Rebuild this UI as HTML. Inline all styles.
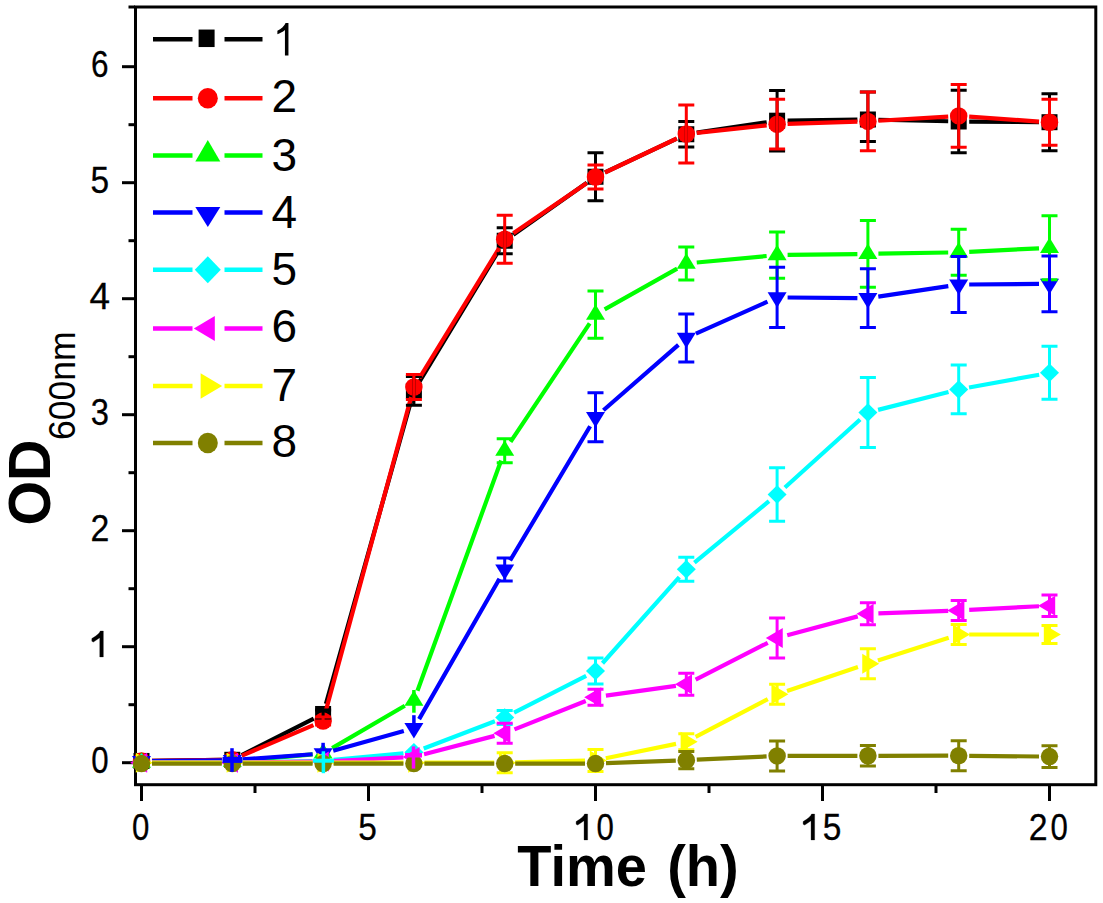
<!DOCTYPE html>
<html><head><meta charset="utf-8"><style>
html,body{margin:0;padding:0;background:#fff;}
svg{display:block;font-family:"Liberation Sans",sans-serif;}
</style></head><body>
<svg width="1103" height="903" viewBox="0 0 1103 903">
<rect width="1103" height="903" fill="#fff"/>
<rect x="135.5" y="7" width="960.3" height="777.7" fill="none" stroke="#000" stroke-width="3"/>
<g stroke="#000" stroke-width="0.3">
<path d="M122,762.70H135" stroke="#000" stroke-width="3"/>
<text transform="translate(99.84,0) scale(0.83,1)" x="-10.46" y="772.90" font-size="37.6">0</text>
<path d="M122,646.70H135" stroke="#000" stroke-width="3"/>
<path transform="translate(89.89,656.90) scale(0.01762,-0.01762)" vector-effect="non-scaling-stroke" d="M763 0H560V1090L200 840L110 890V1040Q330 1170 470 1300Q560 1390 590 1466H763Z"/>
<path d="M122,530.70H135" stroke="#000" stroke-width="3"/>
<text transform="translate(99.84,0) scale(0.9,1)" x="-10.46" y="540.90" font-size="37.6">2</text>
<path d="M122,414.70H135" stroke="#000" stroke-width="3"/>
<text transform="translate(99.84,0) scale(0.87,1)" x="-10.46" y="424.90" font-size="37.6">3</text>
<path d="M122,298.70H135" stroke="#000" stroke-width="3"/>
<text transform="translate(99.84,0) scale(0.98,1)" x="-10.46" y="308.90" font-size="37.6">4</text>
<path d="M122,182.70H135" stroke="#000" stroke-width="3"/>
<text transform="translate(99.84,0) scale(0.89,1)" x="-10.46" y="192.90" font-size="37.6">5</text>
<path d="M122,66.70H135" stroke="#000" stroke-width="3"/>
<text transform="translate(99.84,0) scale(0.84,1)" x="-10.46" y="76.90" font-size="37.6">6</text>
</g>
<path d="M128.5,704.70H135" stroke="#000" stroke-width="3"/>
<path d="M128.5,588.70H135" stroke="#000" stroke-width="3"/>
<path d="M128.5,472.70H135" stroke="#000" stroke-width="3"/>
<path d="M128.5,356.70H135" stroke="#000" stroke-width="3"/>
<path d="M128.5,240.70H135" stroke="#000" stroke-width="3"/>
<path d="M128.5,124.70H135" stroke="#000" stroke-width="3"/>
<path d="M128.5,7.00H135" stroke="#000" stroke-width="3"/>
<path d="M141.50,785V801" stroke="#000" stroke-width="3"/>
<g stroke="#000" stroke-width="0.3"><text transform="translate(140.60,0) scale(0.83,1)" x="-10.46" y="839.90" font-size="37.6">0</text></g>
<path d="M368.50,785V801" stroke="#000" stroke-width="3"/>
<g stroke="#000" stroke-width="0.3"><text transform="translate(367.60,0) scale(0.89,1)" x="-10.46" y="839.90" font-size="37.6">5</text></g>
<path d="M595.50,785V801" stroke="#000" stroke-width="3"/>
<g stroke="#000" stroke-width="0.3"><path transform="translate(574.19,839.90) scale(0.01762,-0.01762)" vector-effect="non-scaling-stroke" d="M763 0H560V1090L200 840L110 890V1040Q330 1170 470 1300Q560 1390 590 1466H763Z"/><text transform="translate(605.06,0) scale(0.83,1)" x="-10.46" y="839.90" font-size="37.6">0</text></g>
<path d="M822.50,785V801" stroke="#000" stroke-width="3"/>
<g stroke="#000" stroke-width="0.3"><path transform="translate(801.19,839.90) scale(0.01762,-0.01762)" vector-effect="non-scaling-stroke" d="M763 0H560V1090L200 840L110 890V1040Q330 1170 470 1300Q560 1390 590 1466H763Z"/><text transform="translate(832.06,0) scale(0.89,1)" x="-10.46" y="839.90" font-size="37.6">5</text></g>
<path d="M1049.50,785V801" stroke="#000" stroke-width="3"/>
<g stroke="#000" stroke-width="0.3"><text transform="translate(1038.14,0) scale(0.9,1)" x="-10.46" y="839.90" font-size="37.6">2</text><text transform="translate(1059.06,0) scale(0.83,1)" x="-10.46" y="839.90" font-size="37.6">0</text></g>
<path d="M255.00,785V793" stroke="#000" stroke-width="3"/>
<path d="M482.00,785V793" stroke="#000" stroke-width="3"/>
<path d="M709.00,785V793" stroke="#000" stroke-width="3"/>
<path d="M936.00,785V793" stroke="#000" stroke-width="3"/>
<path d="M152.00,760.83L221.80,759.93M241.67,755.07L313.73,718.71M325.94,703.87L411.06,401.01M419.33,381.92L499.27,249.73M513.28,234.70L586.92,182.80M605.01,172.30L676.79,138.70M696.69,132.70L766.71,122.25M787.60,120.56L857.40,119.64M878.40,119.73L948.20,121.27M969.20,121.58L1039.00,122.12" fill="none" stroke="#000000" stroke-width="4.2"/>
<rect x="133.50" y="752.96" width="16.00" height="16.00" fill="#000000"/>
<rect x="224.30" y="751.80" width="16.00" height="16.00" fill="#000000"/>
<rect x="315.10" y="705.98" width="16.00" height="16.00" fill="#000000"/>
<rect x="405.90" y="382.90" width="16.00" height="16.00" fill="#000000"/>
<rect x="496.70" y="232.75" width="16.00" height="16.00" fill="#000000"/>
<rect x="587.50" y="168.75" width="16.00" height="16.00" fill="#000000"/>
<rect x="678.30" y="126.25" width="16.00" height="16.00" fill="#000000"/>
<rect x="769.10" y="112.70" width="16.00" height="16.00" fill="#000000"/>
<rect x="859.90" y="111.50" width="16.00" height="16.00" fill="#000000"/>
<rect x="950.70" y="113.50" width="16.00" height="16.00" fill="#000000"/>
<rect x="1041.50" y="114.20" width="16.00" height="16.00" fill="#000000"/>
<path d="M152.00,760.83L221.80,759.93M241.95,755.67L313.45,725.07M325.85,710.81L411.15,397.13M419.39,378.05L499.21,248.10M513.36,233.22L586.84,182.93M604.99,172.51L676.81,138.49M696.74,132.87L766.66,125.33M787.60,123.88L857.40,121.72M878.38,120.77L948.22,116.53M969.17,116.64L1039.03,121.56" fill="none" stroke="#ff0000" stroke-width="4.2"/>
<ellipse cx="141.50" cy="760.96" rx="8.75" ry="8.75" fill="#ff0000"/>
<ellipse cx="232.30" cy="759.80" rx="8.75" ry="8.75" fill="#ff0000"/>
<ellipse cx="323.10" cy="720.94" rx="8.75" ry="8.75" fill="#ff0000"/>
<ellipse cx="413.90" cy="387.00" rx="8.75" ry="8.75" fill="#ff0000"/>
<ellipse cx="504.70" cy="239.15" rx="8.75" ry="8.75" fill="#ff0000"/>
<ellipse cx="595.50" cy="177.00" rx="8.75" ry="8.75" fill="#ff0000"/>
<ellipse cx="686.30" cy="134.00" rx="8.75" ry="8.75" fill="#ff0000"/>
<ellipse cx="777.10" cy="124.20" rx="8.75" ry="8.75" fill="#ff0000"/>
<ellipse cx="867.90" cy="121.40" rx="8.75" ry="8.75" fill="#ff0000"/>
<ellipse cx="958.70" cy="115.90" rx="8.75" ry="8.75" fill="#ff0000"/>
<ellipse cx="1049.50" cy="122.30" rx="8.75" ry="8.75" fill="#ff0000"/>
<path d="M152.00,762.57L221.80,761.67M242.76,760.60L312.64,754.36M332.17,748.13L404.83,705.81M417.49,690.66L501.11,460.53M510.53,441.93L589.67,323.33M604.65,309.45L677.15,268.65M696.75,262.53L766.65,256.02M787.60,254.92L857.40,254.03M878.40,253.72L948.20,252.48M969.19,251.78L1039.01,248.32" fill="none" stroke="#00ff00" stroke-width="4.2"/>
<path d="M141.50,752.37L151.00,767.87L132.00,767.87Z" fill="#00ff00"/>
<path d="M232.30,751.21L241.80,766.71L222.80,766.71Z" fill="#00ff00"/>
<path d="M323.10,743.09L332.60,758.59L313.60,758.59Z" fill="#00ff00"/>
<path d="M413.90,690.19L423.40,705.69L404.40,705.69Z" fill="#00ff00"/>
<path d="M504.70,440.33L514.20,455.83L495.20,455.83Z" fill="#00ff00"/>
<path d="M595.50,304.27L605.00,319.77L586.00,319.77Z" fill="#00ff00"/>
<path d="M686.30,253.17L695.80,268.67L676.80,268.67Z" fill="#00ff00"/>
<path d="M777.10,244.72L786.60,260.22L767.60,260.22Z" fill="#00ff00"/>
<path d="M867.90,243.57L877.40,259.07L858.40,259.07Z" fill="#00ff00"/>
<path d="M958.70,241.97L968.20,257.47L949.20,257.47Z" fill="#00ff00"/>
<path d="M1049.50,237.47L1059.00,252.97L1040.00,252.97Z" fill="#00ff00"/>
<path d="M152.00,761.07L221.80,760.27M242.77,759.38L312.63,754.27M333.22,750.69L403.78,731.06M419.11,719.13L499.49,578.67M510.08,560.54L590.12,426.22M603.41,410.29L678.39,344.81M695.89,333.62L767.51,301.68M787.60,297.49L857.40,298.11M878.28,296.64L948.32,286.16M969.20,284.51L1039.00,283.89" fill="none" stroke="#0000ff" stroke-width="4.2"/>
<path d="M141.50,771.53L151.00,756.03L132.00,756.03Z" fill="#0000ff"/>
<path d="M232.30,770.48L241.80,754.98L222.80,754.98Z" fill="#0000ff"/>
<path d="M323.10,763.83L332.60,748.33L313.60,748.33Z" fill="#0000ff"/>
<path d="M413.90,738.58L423.40,723.08L404.40,723.08Z" fill="#0000ff"/>
<path d="M504.70,579.89L514.20,564.39L495.20,564.39Z" fill="#0000ff"/>
<path d="M595.50,427.53L605.00,412.03L586.00,412.03Z" fill="#0000ff"/>
<path d="M686.30,348.23L695.80,332.73L676.80,332.73Z" fill="#0000ff"/>
<path d="M777.10,307.73L786.60,292.23L767.60,292.23Z" fill="#0000ff"/>
<path d="M867.90,308.53L877.40,293.03L858.40,293.03Z" fill="#0000ff"/>
<path d="M958.70,294.93L968.20,279.43L949.20,279.43Z" fill="#0000ff"/>
<path d="M1049.50,294.13L1059.00,278.63L1040.00,278.63Z" fill="#0000ff"/>
<path d="M152.00,762.70L221.80,762.70M242.80,762.50L312.60,761.16M333.55,759.96L403.45,753.26M423.70,748.50L494.90,721.22M514.05,712.68L586.15,675.84M602.49,663.23L679.31,577.16M694.41,562.65L768.99,501.23M784.89,487.51L860.11,419.54M878.08,409.91L948.52,391.99M969.03,387.52L1039.17,374.73" fill="none" stroke="#00ffff" stroke-width="4.2"/>
<path d="M141.50,753.45L151.00,762.70L141.50,771.95L132.00,762.70Z" fill="#00ffff"/>
<path d="M232.30,753.45L241.80,762.70L232.30,771.95L222.80,762.70Z" fill="#00ffff"/>
<path d="M323.10,751.71L332.60,760.96L323.10,770.21L313.60,760.96Z" fill="#00ffff"/>
<path d="M413.90,743.01L423.40,752.26L413.90,761.51L404.40,752.26Z" fill="#00ffff"/>
<path d="M504.70,708.21L514.20,717.46L504.70,726.71L495.20,717.46Z" fill="#00ffff"/>
<path d="M595.50,661.81L605.00,671.06L595.50,680.31L586.00,671.06Z" fill="#00ffff"/>
<path d="M686.30,560.08L695.80,569.33L686.30,578.58L676.80,569.33Z" fill="#00ffff"/>
<path d="M777.10,485.30L786.60,494.55L777.10,503.80L767.60,494.55Z" fill="#00ffff"/>
<path d="M867.90,403.25L877.40,412.50L867.90,421.75L858.40,412.50Z" fill="#00ffff"/>
<path d="M958.70,380.15L968.20,389.40L958.70,398.65L949.20,389.40Z" fill="#00ffff"/>
<path d="M1049.50,363.60L1059.00,372.85L1049.50,382.10L1040.00,372.85Z" fill="#00ffff"/>
<path d="M152.00,762.70L221.80,762.70M242.80,762.57L312.60,761.67M333.59,761.00L403.41,757.44M424.06,754.25L494.54,735.88M514.46,729.36L585.74,701.04M605.90,695.69L675.90,685.82M695.65,679.58L767.75,642.82M787.24,635.33L857.76,616.37M878.39,613.28L948.21,610.82M969.19,609.90L1039.01,606.25" fill="none" stroke="#ff00ff" stroke-width="4.2"/>
<path d="M130.17,762.70L147.17,752.70L147.17,772.70Z" fill="#ff00ff"/>
<path d="M220.97,762.70L237.97,752.70L237.97,772.70Z" fill="#ff00ff"/>
<path d="M311.77,761.54L328.77,751.54L328.77,771.54Z" fill="#ff00ff"/>
<path d="M402.57,756.90L419.57,746.90L419.57,766.90Z" fill="#ff00ff"/>
<path d="M493.37,733.24L510.37,723.24L510.37,743.24Z" fill="#ff00ff"/>
<path d="M584.17,697.16L601.17,687.16L601.17,707.16Z" fill="#ff00ff"/>
<path d="M674.97,684.35L691.97,674.35L691.97,694.35Z" fill="#ff00ff"/>
<path d="M765.77,638.05L782.77,628.05L782.77,648.05Z" fill="#ff00ff"/>
<path d="M856.57,613.65L873.57,603.65L873.57,623.65Z" fill="#ff00ff"/>
<path d="M947.37,610.45L964.37,600.45L964.37,620.45Z" fill="#ff00ff"/>
<path d="M1038.17,605.70L1055.17,595.70L1055.17,615.70Z" fill="#ff00ff"/>
<path d="M152.00,762.70L221.80,762.70M242.80,762.70L312.60,762.70M333.60,762.70L403.40,762.70M424.40,762.70L494.20,762.70M515.20,762.43L585.00,760.65M605.79,758.28L676.01,743.92M695.60,736.95L767.80,699.13M787.05,690.92L857.95,667.10M877.89,660.53L948.71,637.74M969.20,634.52L1039.00,634.52" fill="none" stroke="#ffff00" stroke-width="4.2"/>
<path d="M504.70,752.70V772.70M496.70,752.70H512.70M496.70,772.70H512.70" stroke="#ffff00" stroke-width="3" fill="none"/>
<path d="M595.50,749.38V771.38M587.50,749.38H603.50M587.50,771.38H603.50" stroke="#ffff00" stroke-width="3" fill="none"/>
<path d="M686.30,733.82V749.82M678.30,733.82H694.30M678.30,749.82H694.30" stroke="#ffff00" stroke-width="3" fill="none"/>
<path d="M777.10,684.26V704.26M769.10,684.26H785.10M769.10,704.26H785.10" stroke="#ffff00" stroke-width="3" fill="none"/>
<path d="M867.90,648.75V678.75M859.90,648.75H875.90M859.90,678.75H875.90" stroke="#ffff00" stroke-width="3" fill="none"/>
<path d="M958.70,624.52V644.52M950.70,624.52H966.70M950.70,644.52H966.70" stroke="#ffff00" stroke-width="3" fill="none"/>
<path d="M1049.50,625.52V643.52M1041.50,625.52H1057.50M1041.50,643.52H1057.50" stroke="#ffff00" stroke-width="3" fill="none"/>
<path d="M152.83,762.70L135.83,752.70L135.83,772.70Z" fill="#ffff00"/>
<path d="M243.63,762.70L226.63,752.70L226.63,772.70Z" fill="#ffff00"/>
<path d="M334.43,762.70L317.43,752.70L317.43,772.70Z" fill="#ffff00"/>
<path d="M425.23,762.70L408.23,752.70L408.23,772.70Z" fill="#ffff00"/>
<path d="M516.03,762.70L499.03,752.70L499.03,772.70Z" fill="#ffff00"/>
<path d="M606.83,760.38L589.83,750.38L589.83,770.38Z" fill="#ffff00"/>
<path d="M697.63,741.82L680.63,731.82L680.63,751.82Z" fill="#ffff00"/>
<path d="M788.43,694.26L771.43,684.26L771.43,704.26Z" fill="#ffff00"/>
<path d="M879.23,663.75L862.23,653.75L862.23,673.75Z" fill="#ffff00"/>
<path d="M970.03,634.52L953.03,624.52L953.03,644.52Z" fill="#ffff00"/>
<path d="M1060.83,634.52L1043.83,624.52L1043.83,644.52Z" fill="#ffff00"/>
<path d="M152.00,763.60L221.80,763.60M242.80,763.60L312.60,763.60M333.60,763.60L403.40,763.60M424.40,763.60L494.20,763.60M515.20,763.60L585.00,763.60M605.99,763.21L675.81,760.59M696.79,759.70L766.61,756.40M787.60,755.89L857.40,755.81M878.40,755.79L948.20,755.71M969.20,755.80L1039.00,756.50" fill="none" stroke="#808000" stroke-width="4.2"/>
<path d="M686.30,751.60V768.80M678.30,751.60H694.30M678.30,768.80H694.30" stroke="#808000" stroke-width="3" fill="none"/>
<path d="M777.10,740.90V770.90M769.10,740.90H785.10M769.10,770.90H785.10" stroke="#808000" stroke-width="3" fill="none"/>
<path d="M867.90,745.50V766.10M859.90,745.50H875.90M859.90,766.10H875.90" stroke="#808000" stroke-width="3" fill="none"/>
<path d="M958.70,740.70V770.70M950.70,740.70H966.70M950.70,770.70H966.70" stroke="#808000" stroke-width="3" fill="none"/>
<path d="M1049.50,745.80V767.40M1041.50,745.80H1057.50M1041.50,767.40H1057.50" stroke="#808000" stroke-width="3" fill="none"/>
<ellipse cx="141.50" cy="763.60" rx="8.75" ry="8.75" fill="#808000"/>
<ellipse cx="232.30" cy="763.60" rx="8.75" ry="8.75" fill="#808000"/>
<ellipse cx="323.10" cy="763.60" rx="8.75" ry="8.75" fill="#808000"/>
<ellipse cx="413.90" cy="763.60" rx="8.75" ry="8.75" fill="#808000"/>
<ellipse cx="504.70" cy="763.60" rx="8.75" ry="8.75" fill="#808000"/>
<ellipse cx="595.50" cy="763.60" rx="8.75" ry="8.75" fill="#808000"/>
<ellipse cx="686.30" cy="760.20" rx="8.75" ry="8.75" fill="#808000"/>
<ellipse cx="777.10" cy="755.90" rx="8.75" ry="8.75" fill="#808000"/>
<ellipse cx="867.90" cy="755.80" rx="8.75" ry="8.75" fill="#808000"/>
<ellipse cx="958.70" cy="755.70" rx="8.75" ry="8.75" fill="#808000"/>
<ellipse cx="1049.50" cy="756.60" rx="8.75" ry="8.75" fill="#808000"/>
<path d="M323.10,709.98V717.98M315.10,709.98H331.10M315.10,717.98H331.10" stroke="#000000" stroke-width="3" fill="none"/>
<path d="M413.90,376.60V405.20M405.90,376.60H421.90M405.90,405.20H421.90" stroke="#000000" stroke-width="3" fill="none"/>
<path d="M504.70,227.75V253.75M496.70,227.75H512.70M496.70,253.75H512.70" stroke="#000000" stroke-width="3" fill="none"/>
<path d="M595.50,152.75V200.75M587.50,152.75H603.50M587.50,200.75H603.50" stroke="#000000" stroke-width="3" fill="none"/>
<path d="M686.30,121.50V147.00M678.30,121.50H694.30M678.30,147.00H694.30" stroke="#000000" stroke-width="3" fill="none"/>
<path d="M777.10,90.50V150.90M769.10,90.50H785.10M769.10,150.90H785.10" stroke="#000000" stroke-width="3" fill="none"/>
<path d="M867.90,92.00V141.50M859.90,92.00H875.90M859.90,141.50H875.90" stroke="#000000" stroke-width="3" fill="none"/>
<path d="M958.70,90.20V152.80M950.70,90.20H966.70M950.70,152.80H966.70" stroke="#000000" stroke-width="3" fill="none"/>
<path d="M1049.50,93.70V150.70M1041.50,93.70H1057.50M1041.50,150.70H1057.50" stroke="#000000" stroke-width="3" fill="none"/>
<path d="M323.10,716.94V724.94M315.10,716.94H331.10M315.10,724.94H331.10" stroke="#ff0000" stroke-width="3" fill="none"/>
<path d="M413.90,374.40V399.60M405.90,374.40H421.90M405.90,399.60H421.90" stroke="#ff0000" stroke-width="3" fill="none"/>
<path d="M504.70,215.15V263.15M496.70,215.15H512.70M496.70,263.15H512.70" stroke="#ff0000" stroke-width="3" fill="none"/>
<path d="M595.50,165.00V189.00M587.50,165.00H603.50M587.50,189.00H603.50" stroke="#ff0000" stroke-width="3" fill="none"/>
<path d="M686.30,105.00V163.00M678.30,105.00H694.30M678.30,163.00H694.30" stroke="#ff0000" stroke-width="3" fill="none"/>
<path d="M777.10,99.30V149.10M769.10,99.30H785.10M769.10,149.10H785.10" stroke="#ff0000" stroke-width="3" fill="none"/>
<path d="M867.90,92.00V150.80M859.90,92.00H875.90M859.90,150.80H875.90" stroke="#ff0000" stroke-width="3" fill="none"/>
<path d="M958.70,84.50V147.30M950.70,84.50H966.70M950.70,147.30H966.70" stroke="#ff0000" stroke-width="3" fill="none"/>
<path d="M1049.50,99.30V145.30M1041.50,99.30H1057.50M1041.50,145.30H1057.50" stroke="#ff0000" stroke-width="3" fill="none"/>
<path d="M413.90,690.00V712.70" stroke="#00ff00" stroke-width="3.5" fill="none"/>
<path d="M504.70,438.66V462.66M496.70,438.66H512.70M496.70,462.66H512.70" stroke="#00ff00" stroke-width="3" fill="none"/>
<path d="M595.50,290.90V338.30M587.50,290.90H603.50M587.50,338.30H603.50" stroke="#00ff00" stroke-width="3" fill="none"/>
<path d="M686.30,246.90V280.10M678.30,246.90H694.30M678.30,280.10H694.30" stroke="#00ff00" stroke-width="3" fill="none"/>
<path d="M777.10,231.95V278.15M769.10,231.95H785.10M769.10,278.15H785.10" stroke="#00ff00" stroke-width="3" fill="none"/>
<path d="M867.90,220.60V287.20M859.90,220.60H875.90M859.90,287.20H875.90" stroke="#00ff00" stroke-width="3" fill="none"/>
<path d="M958.70,229.30V275.30M950.70,229.30H966.70M950.70,275.30H966.70" stroke="#00ff00" stroke-width="3" fill="none"/>
<path d="M1049.50,215.80V279.80M1041.50,215.80H1057.50M1041.50,279.80H1057.50" stroke="#00ff00" stroke-width="3" fill="none"/>
<path d="M323.10,742.80V754.00" stroke="#0000ff" stroke-width="3.5" fill="none"/>
<path d="M413.90,715.20V730.00" stroke="#0000ff" stroke-width="3.5" fill="none"/>
<path d="M504.70,558.06V581.06M496.70,558.06H512.70M496.70,581.06H512.70" stroke="#0000ff" stroke-width="3" fill="none"/>
<path d="M595.50,392.70V441.70M587.50,392.70H603.50M587.50,441.70H603.50" stroke="#0000ff" stroke-width="3" fill="none"/>
<path d="M686.30,313.90V361.90M678.30,313.90H694.30M678.30,361.90H694.30" stroke="#0000ff" stroke-width="3" fill="none"/>
<path d="M777.10,267.20V327.60M769.10,267.20H785.10M769.10,327.60H785.10" stroke="#0000ff" stroke-width="3" fill="none"/>
<path d="M867.90,268.80V327.60M859.90,268.80H875.90M859.90,327.60H875.90" stroke="#0000ff" stroke-width="3" fill="none"/>
<path d="M958.70,256.60V312.60M950.70,256.60H966.70M950.70,312.60H966.70" stroke="#0000ff" stroke-width="3" fill="none"/>
<path d="M1049.50,255.90V311.70M1041.50,255.90H1057.50M1041.50,311.70H1057.50" stroke="#0000ff" stroke-width="3" fill="none"/>
<path d="M504.70,710.46V724.46M496.70,710.46H512.70M496.70,724.46H512.70" stroke="#00ffff" stroke-width="3" fill="none"/>
<path d="M595.50,658.06V684.06M587.50,658.06H603.50M587.50,684.06H603.50" stroke="#00ffff" stroke-width="3" fill="none"/>
<path d="M686.30,557.33V581.33M678.30,557.33H694.30M678.30,581.33H694.30" stroke="#00ffff" stroke-width="3" fill="none"/>
<path d="M777.10,467.85V521.25M769.10,467.85H785.10M769.10,521.25H785.10" stroke="#00ffff" stroke-width="3" fill="none"/>
<path d="M867.90,377.50V447.50M859.90,377.50H875.90M859.90,447.50H875.90" stroke="#00ffff" stroke-width="3" fill="none"/>
<path d="M958.70,365.00V413.80M950.70,365.00H966.70M950.70,413.80H966.70" stroke="#00ffff" stroke-width="3" fill="none"/>
<path d="M1049.50,346.35V399.35M1041.50,346.35H1057.50M1041.50,399.35H1057.50" stroke="#00ffff" stroke-width="3" fill="none"/>
<path d="M504.70,723.24V743.24M496.70,723.24H512.70M496.70,743.24H512.70" stroke="#ff00ff" stroke-width="3" fill="none"/>
<path d="M595.50,689.16V705.16M587.50,689.16H603.50M587.50,705.16H603.50" stroke="#ff00ff" stroke-width="3" fill="none"/>
<path d="M686.30,673.35V695.35M678.30,673.35H694.30M678.30,695.35H694.30" stroke="#ff00ff" stroke-width="3" fill="none"/>
<path d="M777.10,618.05V658.05M769.10,618.05H785.10M769.10,658.05H785.10" stroke="#ff00ff" stroke-width="3" fill="none"/>
<path d="M867.90,602.65V624.65M859.90,602.65H875.90M859.90,624.65H875.90" stroke="#ff00ff" stroke-width="3" fill="none"/>
<path d="M958.70,600.45V620.45M950.70,600.45H966.70M950.70,620.45H966.70" stroke="#ff00ff" stroke-width="3" fill="none"/>
<path d="M1049.50,595.00V616.40M1041.50,595.00H1057.50M1041.50,616.40H1057.50" stroke="#ff00ff" stroke-width="3" fill="none"/>
<rect x="230.25" y="748.20" width="3.5" height="23.70" fill="#0000ff"/><rect x="222.50" y="756.90" width="19.90" height="6.00" fill="#0000ff"/>
<rect x="321.65" y="751.30" width="3.5" height="21.90" fill="#00ffff"/><rect x="313.00" y="758.70" width="21.00" height="4.00" fill="#00ffff"/>
<rect x="411.75" y="746.40" width="3.5" height="22.20" fill="#ff00ff"/><rect x="405.00" y="753.00" width="17.00" height="4.50" fill="#ff00ff"/>
<path d="M153,39.30H192.5M224.5,39.30H262.5" stroke="#000000" stroke-width="4.5"/>
<rect x="198.60" y="29.55" width="16.00" height="17.50" fill="#000000"/>
<path transform="translate(272.00,55.40) scale(0.02156,-0.02156)" vector-effect="non-scaling-stroke" d="M763 0H600V1180Q520 1110 420 1060Q330 1010 250 985V1140Q380 1200 480 1290Q580 1380 630 1500H763Z"/>
<path d="M153,98.20H192.5M224.5,98.20H262.5" stroke="#ff0000" stroke-width="4.5"/>
<ellipse cx="207.80" cy="98.20" rx="10.00" ry="10.25" fill="#ff0000"/>
<text x="271.50" y="112.20" font-size="46">2</text>
<path d="M153,155.40H192.5M224.5,155.40H262.5" stroke="#00ff00" stroke-width="4.5"/>
<path d="M207.80,140.07L220.30,161.57L195.30,161.57Z" fill="#00ff00"/>
<text x="271.50" y="170.90" font-size="46">3</text>
<path d="M153,212.50H192.5M224.5,212.50H262.5" stroke="#0000ff" stroke-width="4.5"/>
<path d="M207.80,227.03L220.30,207.03L195.30,207.03Z" fill="#0000ff"/>
<text x="271.50" y="227.70" font-size="46">4</text>
<path d="M153,269.70H192.5M224.5,269.70H262.5" stroke="#00ffff" stroke-width="4.5"/>
<path d="M207.80,256.20L220.80,269.70L207.80,283.20L194.80,269.70Z" fill="#00ffff"/>
<text x="271.50" y="284.90" font-size="46">5</text>
<path d="M153,328.60H192.5M224.5,328.60H262.5" stroke="#ff00ff" stroke-width="4.5"/>
<path d="M193.80,328.60L214.80,316.10L214.80,341.10Z" fill="#ff00ff"/>
<text x="271.50" y="341.90" font-size="46">6</text>
<path d="M153,385.90H192.5M224.5,385.90H262.5" stroke="#ffff00" stroke-width="4.5"/>
<path d="M222.13,385.90L200.63,373.15L200.63,398.65Z" fill="#ffff00"/>
<text x="271.50" y="401.20" font-size="46">7</text>
<path d="M153,442.90H192.5M224.5,442.90H262.5" stroke="#808000" stroke-width="4.5"/>
<ellipse cx="207.80" cy="442.90" rx="10.00" ry="10.25" fill="#808000"/>
<text x="271.50" y="457.40" font-size="46">8</text>
<g transform="translate(0,886.3) scale(1,1.03) translate(0,-886.3)"><text x="517.3" y="886.3" font-size="56" font-weight="bold">Time</text><text x="667.2" y="886.3" font-size="56" font-weight="bold">(h)</text></g>
<g transform="translate(49.9,525.6) rotate(-90) scale(1,1.04)"><text x="0" y="0" font-size="57.5" font-weight="bold">OD</text><text x="85.6" y="24.6" font-size="35.5">600nm</text></g>
</svg>
</body></html>
